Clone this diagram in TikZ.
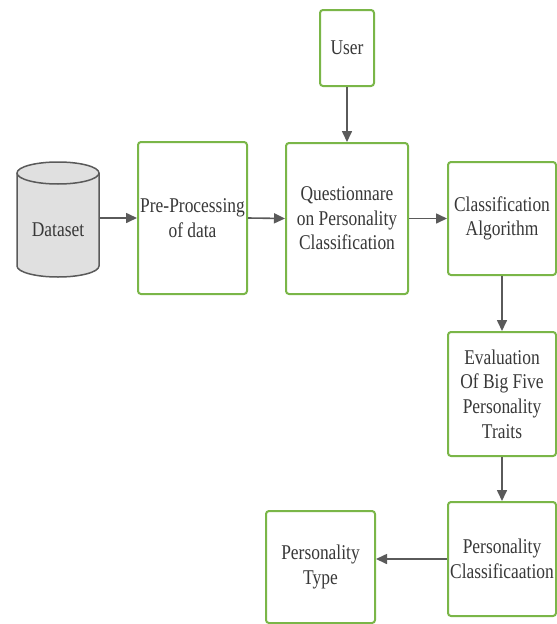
\documentclass[tikz,border=0pt]{standalone}
\usepackage{fontspec}
\setmainfont{Liberation Serif}[FakeStretch=0.83]
\usetikzlibrary{arrows.meta}
\definecolor{boxgreen}{HTML}{7AB648}
\definecolor{arrowgray}{HTML}{5A5A5A}
\definecolor{textgray}{HTML}{383838}
\definecolor{cylfill}{HTML}{E0E0E0}
\tikzset{
  lbl/.style={text=textgray, font=\fontsize{21}{24.6}\selectfont, align=center, inner sep=0pt},
  box/.style={lbl, draw=boxgreen, line width=2pt, rounded corners=3pt, fill=white},
  conn/.style={draw=arrowgray, line width=1.6pt, -{Triangle[length=11pt,width=10pt]}},
}
\begin{document}
\begin{tikzpicture}[x=1pt,y=-1pt]
\useasboundingbox (0,0) rectangle (557,624);
% cylinder
\draw[draw=arrowgray, line width=1.5pt, fill=cylfill]
  (17,173) -- (17,266) arc[start angle=180, end angle=0, x radius=41, y radius=11]
  -- (99,173) arc[start angle=0, end angle=-180, x radius=41, y radius=11] -- cycle;
\draw[draw=arrowgray, line width=1.5pt] (17,173) arc[start angle=180, end angle=0, x radius=41, y radius=11];
\node[minimum width=82, minimum height=115, inner sep=0pt] (ds) at (58,218) {};
\node[lbl] (dslabel) at (58,230) {Dataset};

\node[box, minimum width=54, minimum height=76] (user) at (347,48) {User};
\node[box, minimum width=109, minimum height=152] (pre) at (192.5,218) {Pre-Processing\\of data};
\node[box, minimum width=122, minimum height=151] (quest) at (347,218.5) {Questionnare\\on Personality\\Classification};
\node[box, minimum width=108, minimum height=113] (alg) at (502,218.5) {Classification\\Algorithm};
\node[box, minimum width=108, minimum height=124] (eval) at (502,394) {Evaluation\\Of Big Five\\Personality\\Traits};
\node[box, minimum width=108, minimum height=114] (pc) at (502,559) {Personality\\Classificaation};
\node[box, minimum width=109, minimum height=112] (pt) at (320.5,567) {Personality\\Type};

\draw[conn] (ds.east) -- (pre.west);
\draw[conn] (pre.east) -- (quest.west);
\draw[conn] (user.south) -- (quest.north);
\draw[conn] (quest.east) -- (alg.west);
\draw[conn] (alg.south) -- (eval.north);
\draw[conn] (eval.south) -- (pc.north);
\draw[conn] (pc.west) -- (pc.west -| pt.east);
\end{tikzpicture}
\end{document}
